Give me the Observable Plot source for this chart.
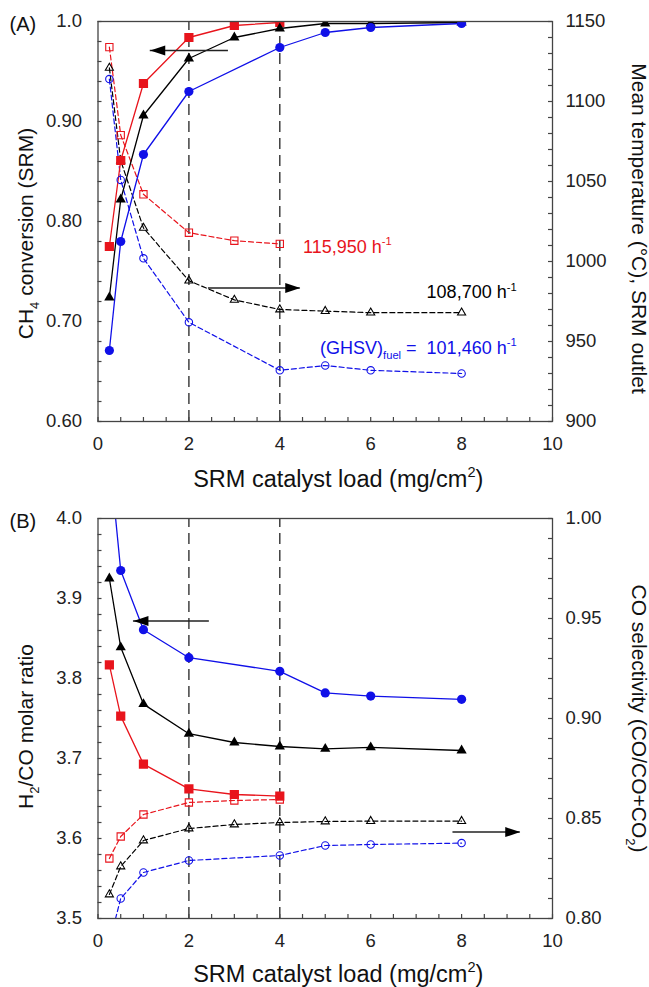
<!DOCTYPE html>
<html><head><meta charset="utf-8">
<script src="https://cdn.jsdelivr.net/npm/d3@7"></script>
<script src="https://cdn.jsdelivr.net/npm/@observablehq/plot@0.6"></script>
<style>body{margin:0;background:#fff;} svg{display:block;}</style>
</head><body><div id="chart"></div>
<script>
// ---------- data ----------
const loadsAll  = [0.25, 0.5, 1, 2, 3, 4, 5, 6, 8];
const loadsRed  = [0.25, 0.5, 1, 2, 3, 4];
const loadsBlue = [0.25, 0.5, 1, 2, 4, 5, 6, 8];
const guideLoads = [2, 4];

// Panel A: CH4 conversion (left) and mean temperature (right)
const convRed   = [0.775, 0.861, 0.938, 0.984, 0.996, 0.999];
const convBlack = [0.724, 0.822, 0.906, 0.963, 0.984, 0.993, 0.998, 0.998, 0.999];
const convBlue  = [0.671, 0.780, 0.867, 0.930, 0.974, 0.989, 0.994, 0.998];
const tempRed   = [1134, 1079, 1042, 1018, 1013, 1011];
const tempBlack = [1121, 1063, 1021, 988, 976, 970, 969, 968, 968];
const tempBlue  = [1114, 1051, 1002, 962, 932, 935, 932, 930];

// Panel B: H2/CO ratio (left) and CO selectivity (right)
const ratioRed   = [3.817, 3.753, 3.693, 3.662, 3.655, 3.653];
const ratioBlack = [3.925, 3.839, 3.768, 3.731, 3.720, 3.715, 3.712, 3.714, 3.710];
const ratioBlue  = [4.08, 3.935, 3.861, 3.826, 3.809, 3.782, 3.778, 3.774];
const selRed   = [0.830, 0.841, 0.852, 0.858, 0.859, 0.8595];
const selBlack = [0.812, 0.826, 0.839, 0.845, 0.847, 0.848, 0.8485, 0.8487, 0.8487];
const selBlue  = [0.788, 0.810, 0.823, 0.829, 0.8315, 0.8365, 0.837, 0.8377];

// tick labels
const xTicks = [0, 2, 4, 6, 8, 10];
const xTickLabels = ["0", "2", "4", "6", "8", "10"];
const convTicks = [0.6, 0.7, 0.8, 0.9, 1.0];
const convTickLabels = ["0.60", "0.70", "0.80", "0.90", "1.0"];
const tempTicks = [900, 950, 1000, 1050, 1100, 1150];
const tempTickLabels = ["900", "950", "1000", "1050", "1100", "1150"];
const ratioTicks = [3.5, 3.6, 3.7, 3.8, 3.9, 4.0];
const ratioTickLabels = ["3.5", "3.6", "3.7", "3.8", "3.9", "4.0"];
const selTicks = [0.80, 0.85, 0.90, 0.95, 1.00];
const selTickLabels = ["0.80", "0.85", "0.90", "0.95", "1.00"];

// annotations (values in left-axis units) and arrows
const notesA = [
  {text: "115,950 h^{-1}", x: 4.51, y: 0.7687, series: "red", anchor: "start"},
  {text: "108,700 h^{-1}", x: 9.21, y: 0.7233, series: "black", anchor: "end"},
  {text: "(GHSV)_{fuel} =\u00a0 101,460 h^{-1}", x: 9.21, y: 0.6677, series: "blue", anchor: "end"}
];
const arrowsA = [
  {axis: "left", y: 0.971, from: 2.87, to: 1.15},
  {axis: "right", y: 983.5, from: 2.43, to: 4.45}
];
const arrowsB = [
  {axis: "left", y: 3.872, from: 2.45, to: 0.78},
  {axis: "right", y: 0.8432, from: 7.81, to: 9.29}
];

// ---------- styling ----------
const FONT = "'Liberation Sans', Arial, Helvetica, sans-serif";
const COLORS = {red: "#e8141c", black: "#000000", blue: "#1010e8"};
const SYMBOLS = {red: "square", black: "triangle", blue: "circle"};
const FILLED_R = {red: 5.2, black: 3.8, blue: 4.6};
const OPEN_R = {red: 4.1, black: 3.0, blue: 3.7};

const arrowLeft = {draw(ctx) { ctx.moveTo(0, 0); ctx.lineTo(15, -5); ctx.lineTo(15, 5); ctx.closePath(); }};
const arrowRight = {draw(ctx) { ctx.moveTo(0, 0); ctx.lineTo(-15, -5); ctx.lineTo(-15, 5); ctx.closePath(); }};

const rows = (xs, ys, f = v => v) => xs.map((x, i) => ({x, y: f(ys[i])}));

function panel(cfg) {
  const {height, marginBottom, yDomain, toL, series, leftTicks, leftLabels, leftStep,
         rightTicks, rightLabels, rightStep, rightDomain, arrows, notes, letter,
         yTitle, rTitle, yTitleDy, rTitleDy, tickLenY, xTitleDy} = cfg;
  const tickLenX = 4 / 45.45;
  const marks = [];
  // guides
  marks.push(Plot.ruleX(guideLoads, {x: d => d, y1: yDomain[0], y2: yDomain[1], stroke: "#333", strokeWidth: 1.4, strokeDasharray: "11,6"}));
  // dashed (right axis) series
  for (const s of series) {
    const data = rows(s.xs, s.right, toL);
    marks.push(Plot.line(data, {x: "x", y: "y", stroke: COLORS[s.key], strokeWidth: 1.2, strokeDasharray: "5,3", clip: true}));
  }
  // solid (left axis) series
  for (const s of series) {
    const data = rows(s.xs, s.left);
    marks.push(Plot.line(data, {x: "x", y: "y", stroke: COLORS[s.key], strokeWidth: 1.3, clip: true}));
  }
  for (const s of series) {
    marks.push(Plot.dot(rows(s.xs, s.right, toL), {x: "x", y: "y", symbol: SYMBOLS[s.key], r: OPEN_R[s.key], stroke: COLORS[s.key], fill: "none", strokeWidth: 1.1, clip: true}));
  }
  for (const s of series) {
    marks.push(Plot.dot(rows(s.xs, s.left), {x: "x", y: "y", symbol: SYMBOLS[s.key], r: FILLED_R[s.key], fill: COLORS[s.key], stroke: "none", clip: true}));
  }
  // arrows
  const arr = arrows.map(a => ({y: a.axis === "right" ? toL(a.y) : a.y, from: a.from, to: a.to}));
  marks.push(Plot.ruleY(arr, {y: "y", x1: "from", x2: "to", stroke: "#222", strokeWidth: 1.5}));
  marks.push(Plot.dot(arr.filter(a => a.to < a.from), {x: "to", y: "y", symbol: arrowLeft, fill: "#000", stroke: "none"}));
  marks.push(Plot.dot(arr.filter(a => a.to > a.from), {x: "to", y: "y", symbol: arrowRight, fill: "#000", stroke: "none"}));
  // frame
  marks.push(Plot.frame({stroke: "#444", strokeWidth: 1.3}));
  // ticks (inward)
  const xMinor = d3.range(0, 10.001, 0.5);
  marks.push(Plot.ruleX(xMinor, {x: d => d, y1: yDomain[0], y2: yDomain[0] + tickLenY, stroke: "#444", strokeWidth: 1.2}));
  const lMinor = d3.range(yDomain[0], yDomain[1] + 1e-9, leftStep);
  marks.push(Plot.ruleY(lMinor, {y: d => d, x1: 0, x2: tickLenX, stroke: "#444", strokeWidth: 1.2}));
  const rMinor = d3.range(rightDomain[0], rightDomain[1] + 1e-9, rightStep).map(toL);
  marks.push(Plot.ruleY(rMinor, {y: d => d, x1: 10 - tickLenX, x2: 10, stroke: "#444", strokeWidth: 1.2}));
  // tick labels
  const TL = 18.5;
  marks.push(Plot.text(xTicks.map((v, i) => ({v, label: xTickLabels[i]})), {x: "v", text: "label", frameAnchor: "bottom", dy: 15.5, lineAnchor: "top", fontSize: TL, fill: "#222"}));
  marks.push(Plot.text(leftTicks.map((v, i) => ({v, label: leftLabels[i]})), {y: "v", text: "label", frameAnchor: "left", dx: -16, textAnchor: "end", lineAnchor: "middle", fontSize: TL, fill: "#222"}));
  marks.push(Plot.text(rightTicks.map((v, i) => ({v: toL(v), label: rightLabels[i]})), {y: "v", text: "label", frameAnchor: "right", dx: 13, textAnchor: "start", lineAnchor: "middle", fontSize: TL, fill: "#222"}));
  // titles
  marks.push(Plot.text(["SRM catalyst load (mg/cm^{2})"], {text: d => d, frameAnchor: "bottom", dx: 13, dy: xTitleDy, textAnchor: "middle", lineAnchor: "bottom", fontSize: 23.5, fill: "#111"}));
  marks.push(Plot.text([yTitle], {text: d => d, frameAnchor: "left", dx: -72, dy: yTitleDy, rotate: -90, textAnchor: "middle", lineAnchor: "middle", fontSize: 21, fill: "#111"}));
  marks.push(Plot.text([rTitle], {text: d => d, frameAnchor: "right", dx: 86, dy: rTitleDy, rotate: 90, textAnchor: "middle", lineAnchor: "middle", fontSize: 21, fill: "#111"}));
  marks.push(Plot.text([letter], {text: d => d, frameAnchor: "top-left", dx: -88.5, dy: 9, textAnchor: "start", lineAnchor: "bottom", fontSize: 20, fill: "#111"}));
  // annotations
  if (notes) {
    for (const n of notes) {
      marks.push(Plot.text([n], {x: "x", y: "y", text: "text", textAnchor: n.anchor, lineAnchor: "bottom", fontSize: 18, fill: COLORS[n.series]}));
    }
  }
  return Plot.plot({
    width: 649, height, marginLeft: 97.5, marginRight: 97, marginTop: 21, marginBottom,
    x: {domain: [0, 10], axis: null},
    y: {domain: yDomain, axis: null},
    style: {fontFamily: FONT, background: "white", overflow: "visible"},
    marks
  });
}

const toA = t => 0.6 + (t - 900) * 0.4 / 250;
const toB = s => 3.5 + (s - 0.8) * 0.5 / 0.2;

const plotA = panel({
  height: 497, marginBottom: 76, yDomain: [0.6, 1.0], toL: toA, tickLenY: 0.004, xTitleDy: 65,
  series: [
    {key: "red", xs: loadsRed, left: convRed, right: tempRed},
    {key: "black", xs: loadsAll, left: convBlack, right: tempBlack},
    {key: "blue", xs: loadsBlue, left: convBlue, right: tempBlue}
  ],
  leftTicks: convTicks, leftLabels: convTickLabels, leftStep: 0.02,
  rightTicks: tempTicks, rightLabels: tempTickLabels, rightStep: 10, rightDomain: [900, 1150],
  arrows: arrowsA, notes: notesA, letter: "(A)",
  yTitle: "CH_{4} conversion (SRM)", rTitle: "Mean temperature (°C), SRM outlet", yTitleDy: 12, rTitleDy: 7
});

const plotB = panel({
  height: 490, marginBottom: 69, yDomain: [3.5, 4.0], toL: toB, tickLenY: 0.005, xTitleDy: 63,
  series: [
    {key: "red", xs: loadsRed, left: ratioRed, right: selRed},
    {key: "black", xs: loadsAll, left: ratioBlack, right: selBlack},
    {key: "blue", xs: loadsBlue, left: ratioBlue, right: selBlue}
  ],
  leftTicks: ratioTicks, leftLabels: ratioTickLabels, leftStep: 0.02,
  rightTicks: selTicks, rightLabels: selTickLabels, rightStep: 0.01, rightDomain: [0.8, 1.0],
  arrows: arrowsB, notes: null, letter: "(B)",
  yTitle: "H_{2}/CO molar ratio", rTitle: "CO selectivity (CO/CO+CO_{2})", yTitleDy: 8, rTitleDy: 0
});

const root = document.getElementById("chart");
root.appendChild(plotA);
root.appendChild(plotB);

function richify(el) {
  el.querySelectorAll("text").forEach(t => {
    const s = t.textContent;
    if (!/[\^_]\{/.test(s)) return;
    const fs = parseFloat(getComputedStyle(t).fontSize) || 16;
    t.textContent = "";
    const re = /([\^_])\{([^}]*)\}/g;
    let last = 0, m, pending = 0;
    const add = (str, dy, size) => {
      const ts = document.createElementNS("http://www.w3.org/2000/svg", "tspan");
      ts.textContent = str;
      const d = pending + (dy || 0);
      if (d) ts.setAttribute("dy", d);
      if (size) ts.setAttribute("font-size", size);
      pending = 0;
      t.appendChild(ts);
    };
    while ((m = re.exec(s))) {
      if (m.index > last) add(s.slice(last, m.index));
      const shift = m[1] === "^" ? -0.42 * fs : 0.28 * fs;
      add(m[2], shift, 0.62 * fs);
      pending = -shift;
      last = re.lastIndex;
    }
    if (last < s.length) add(s.slice(last));
  });
}
richify(root);
</script>
</body></html>
